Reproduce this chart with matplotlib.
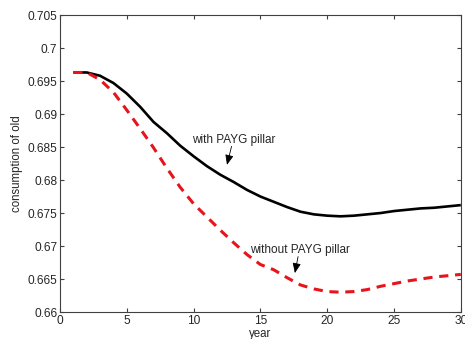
import matplotlib
matplotlib.use("Agg")
import matplotlib.pyplot as plt

plt.rcParams['font.family'] = ['Liberation Sans', 'DejaVu Sans']

years = list(range(1, 31))
with_payg = [0.6963, 0.6963, 0.6958, 0.6947, 0.6931, 0.6911, 0.6888, 0.6871, 0.6852, 0.6836,
             0.6821, 0.6808, 0.6797, 0.6785, 0.6775, 0.6767, 0.6759, 0.6752, 0.6748, 0.6746,
             0.6745, 0.6746, 0.6748, 0.6750, 0.6753, 0.6755, 0.6757, 0.6758, 0.6760, 0.6762]
without_payg = [0.6963, 0.6963, 0.6952, 0.6933, 0.6906, 0.6878, 0.6849, 0.6818, 0.6789, 0.6764,
                0.6744, 0.6724, 0.6705, 0.6687, 0.6672, 0.6664, 0.6652, 0.6641, 0.6635, 0.6631,
                0.6630, 0.6631, 0.6634, 0.6639, 0.6643, 0.6647, 0.6650, 0.6653, 0.6655, 0.6657]
x_ticks = [0, 5, 10, 15, 20, 25, 30]
y_ticks = [0.66, 0.665, 0.67, 0.675, 0.68, 0.685, 0.69, 0.695, 0.7, 0.705]
y_tick_labels = ['0.66', '0.665', '0.67', '0.675', '0.68', '0.685', '0.69', '0.695', '0.7', '0.705']

fig = plt.figure(figsize=(4.65, 3.39), dpi=100)
ax = fig.add_axes([0.129, 0.0796, 0.862, 0.876])

ax.plot(years, with_payg, color='black', lw=1.9, solid_capstyle='butt')
ax.plot(years, without_payg, color='#e8141c', lw=2.2, linestyle=(0, (3, 2.2)))

ax.set_xlim(0, 30)
ax.set_ylim(0.66, 0.705)
ax.set_xticks(x_ticks)
ax.set_xticklabels([str(t) for t in x_ticks])
ax.set_yticks(y_ticks)
ax.set_yticklabels(y_tick_labels)

txt = '#262626'
ax.tick_params(direction='in', top=True, right=True, length=3, width=0.8,
               labelsize=8.6, colors='#404040', labelcolor=txt, pad=2)
for s in ax.spines.values():
    s.set_color('#404040')
    s.set_linewidth(0.8)

ax.set_xlabel('year', fontsize=8.3, color=txt, labelpad=1)
ax.set_ylabel('consumption of old', fontsize=8.3, color=txt, labelpad=3)

arrow = dict(arrowstyle='-|>,head_length=0.6,head_width=0.25', color='black',
             lw=0.6, shrinkA=0, shrinkB=0)
ax.annotate('', xy=(12.5, 0.6823), xytext=(12.84, 0.6851), arrowprops=arrow)
ax.text(12.98, 0.6860, 'with PAYG pillar', fontsize=8.5, color=txt,
        ha='center', va='center')
ax.annotate('', xy=(17.58, 0.6659), xytext=(17.82, 0.6684), arrowprops=arrow)
ax.text(17.95, 0.6694, 'without PAYG pillar', fontsize=8.5, color=txt,
        ha='center', va='center')

fig.savefig('out.png', dpi=100)
